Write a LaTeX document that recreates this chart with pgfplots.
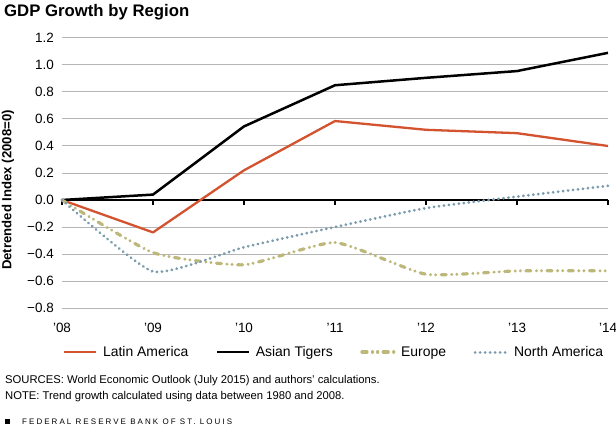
\documentclass[border=0pt]{standalone}
\usepackage{fontspec}
\setmainfont{Liberation Sans}
\usepackage{pgfplots}
\pgfplotsset{compat=1.18}
\definecolor{latam}{HTML}{D4532F}
\definecolor{europe}{HTML}{BDB87A}
\definecolor{namer}{HTML}{7C9CAE}
\definecolor{gridgray}{HTML}{B5B5B5}
\begin{document}
\begin{tikzpicture}[x=1bp,y=1bp]
\useasboundingbox (0,0) rectangle (616,428);
\node[anchor=base west, font=\bfseries\fontsize{16.8}{19}\selectfont, inner sep=0pt] at (4,411) {GDP Growth by Region};
\begin{axis}[
  at={(62bp,120bp)}, anchor=south west, scale only axis,
  width=546bp, height=270bp,
  xmin=0, xmax=6, ymin=-0.8, ymax=1.2,
  axis line style={draw=none},
  major tick length=0pt,
  xtick={0,1,2,3,4,5,6},
  xticklabels={’08,’09,’10,’11,’12,’13,’14},
  ytick={-0.8,-0.6,-0.4,-0.2,0,0.2,0.4,0.6,0.8,1.0,1.2},
  yticklabels={−0.8,−0.6,−0.4,−0.2,0.0,0.2,0.4,0.6,0.8,1.0,1.2},
  ymajorgrids, grid style={gridgray, line width=1bp},
  xticklabel style={font=\fontsize{13.5}{16}\selectfont, anchor=base, inner sep=0pt, yshift=-24bp},
  yticklabel style={font=\fontsize{13.5}{16}\selectfont, anchor=east, inner sep=0pt, xshift=-8bp},
  ylabel={Detrended Index (2008=0)},
  every axis y label/.style={at={(axis description cs:-0.0989,0.437)}, rotate=90, anchor=center, font=\bfseries\fontsize{13.2}{15}\selectfont},
  clip=false,
  legend columns=4,
  legend style={draw=none, fill=none, inner sep=0pt, at={(axis description cs:0.002,-0.163)}, anchor=west,
    font=\fontsize{14}{16}\selectfont, nodes={inner sep=0pt},
    /tikz/every odd column/.append style={column sep=5.5bp},
    /tikz/every even column/.append style={column sep=27.5bp}},
  legend image code/.code={\draw[#1] (0bp,0bp) -- (32bp,0bp);},
]
\draw[black, line width=1.6bp] (axis cs:0,0) -- (axis cs:6,0);
\draw[black, line width=1.3bp] (axis cs:0,0) -- (axis cs:0,-0.036);
\draw[black, line width=1.3bp] (axis cs:1,0) -- (axis cs:1,-0.036);
\draw[black, line width=1.3bp] (axis cs:2,0) -- (axis cs:2,-0.036);
\draw[black, line width=1.3bp] (axis cs:3,0) -- (axis cs:3,-0.036);
\draw[black, line width=1.3bp] (axis cs:4,0) -- (axis cs:4,-0.036);
\draw[black, line width=1.3bp] (axis cs:5,0) -- (axis cs:5,-0.036);
\draw[black, line width=1.3bp] (axis cs:6,0) -- (axis cs:6,-0.036);
\addplot[latam, line width=2.3bp, line join=round] coordinates {(0,0) (1,-0.24) (2,0.22) (3,0.585) (4,0.52) (5,0.495) (6,0.40)};
\addlegendentry{Latin America}
\addplot[black, line width=2.5bp, line join=round] coordinates {(0,0) (1,0.04) (2,0.545) (3,0.85) (4,0.905) (5,0.955) (6,1.09)};
\addlegendentry{Asian Tigers}
\addplot[europe, line width=3.2bp, smooth, tension=0.3, line cap=round, dash pattern=on 5bp off 5.5bp on 0.1bp off 5bp on 0.1bp off 5.5bp] coordinates {(0,0) (1,-0.39) (2,-0.48) (3,-0.315) (4,-0.55) (5,-0.525) (6,-0.525)};
\addlegendentry{Europe}
\addplot[namer, line width=3bp, smooth, tension=0.3, line cap=round, dash pattern=on 0.1bp off 4.9bp] coordinates {(0,0) (1,-0.53) (2,-0.35) (3,-0.2) (4,-0.06) (5,0.025) (6,0.105)};
\addlegendentry{North America}
\end{axis}
\node[anchor=base west, inner sep=0pt, font=\fontsize{11.3}{13}\selectfont] at (5,45) {SOURCES: World Economic Outlook (July 2015) and authors’ calculations.};
\node[anchor=base west, inner sep=0pt, font=\fontsize{11.3}{13}\selectfont] at (5,29) {NOTE: Trend growth calculated using data between 1980 and 2008.};
\fill[black] (5,4) rectangle (10,9.5);
\node[anchor=base west, inner sep=0pt, font=\addfontfeatures{LetterSpace=26}\fontsize{8}{10}\selectfont] at (22,4) {FEDERAL RESERVE BANK OF ST. LOUIS};
\end{tikzpicture}
\end{document}
